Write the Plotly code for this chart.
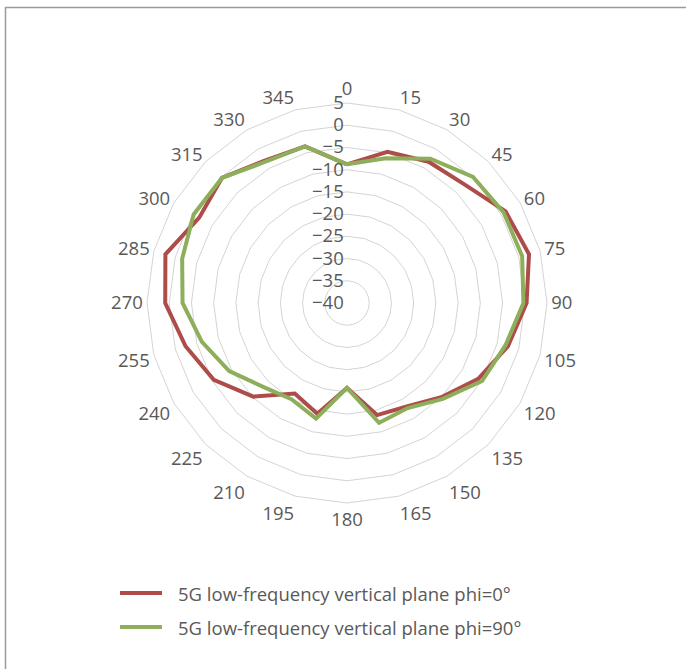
import plotly.graph_objects as go

angles = [str(a) for a in range(0, 360, 15)]
phi0 = [-8.8, -4.8, -3.3, -2.4, 1.2, 2.4, 0.4, -2.5, -5.9, -10.0, -13.1, -13.9,
        -20.9, -14.2, -16.5, -10.2, -5.4, -2.4, 0.9, 2.3, -1.6, -0.2, -3.0, -3.5]
phi90 = [-8.8, -6.3, -2.5, 0.1, 0.7, 0.8, -0.3, -3.1, -4.9, -9.5, -12.7, -12.1,
         -20.9, -13.1, -15.0, -13.3, -9.4, -6.2, -3.0, -1.6, -0.15, -0.2, -3.3, -3.5]
names = ["5G low-frequency vertical plane phi=0°", "5G low-frequency vertical plane phi=90°"]
colors = ["#AE4C4A", "#8DAE5A"]
radial_ticks = list(range(-40, 10, 5))

W, H = 686, 669
FONT = "Open Sans, Lato, sans-serif"
GRAY = "#595959"
FS = 18.5

fig = go.Figure()
for vals, name, col in zip([phi0, phi90], names, colors):
    fig.add_trace(go.Scatterpolar(
        r=vals + [vals[0]], theta=angles + [angles[0]], mode="lines", name=name,
        line=dict(color=col, width=4), showlegend=False))

# legend drawn as swatch + label
shapes = [dict(type="rect", xref="paper", yref="paper",
               x0=5.5/W, x1=1.05, y0=-0.05, y1=(H-7.5)/H,
               line=dict(color="#9A9A9A", width=1.5), fillcolor="rgba(0,0,0,0)")]
annotations = []
for i, (name, col) in enumerate(zip(names, colors)):
    yy = (H - (593 + 34*i)) / H
    shapes.append(dict(type="line", xref="paper", yref="paper",
                       x0=120/W, x1=162/W, y0=yy, y1=yy,
                       line=dict(color=col, width=4)))
    annotations.append(dict(xref="paper", yref="paper", x=176/W, y=yy,
                            xanchor="left", yanchor="middle", showarrow=False,
                            text=name, font=dict(size=FS, color=GRAY, family=FONT)))

fig.update_layout(
    width=W, height=H,
    margin=dict(l=0, r=0, t=0, b=0),
    paper_bgcolor="white",
    font=dict(family=FONT, size=FS, color=GRAY),
    polar=dict(
        domain=dict(x=[147/W, 547/W], y=[(H-503)/H, (H-103)/H]),
        bgcolor="white",
        gridshape="linear",
        radialaxis=dict(range=[-40, 5], tickvals=radial_ticks, angle=90, tickangle=90,
                        side="counterclockwise", showline=False, ticks="",
                        gridcolor="#D4D4D4", gridwidth=1,
                        tickfont=dict(size=FS, color=GRAY, family=FONT)),
        angularaxis=dict(type="category", rotation=90, direction="clockwise",
                         categoryarray=angles, showgrid=False, showline=True,
                         linecolor="#D4D4D4", linewidth=1, ticks="",
                         tickfont=dict(size=FS, color=GRAY, family=FONT)),
    ),
    shapes=shapes,
    annotations=annotations,
)

fig.write_html("out.html", config={"displayModeBar": False},
               post_script="document.body.style.margin='0';")
